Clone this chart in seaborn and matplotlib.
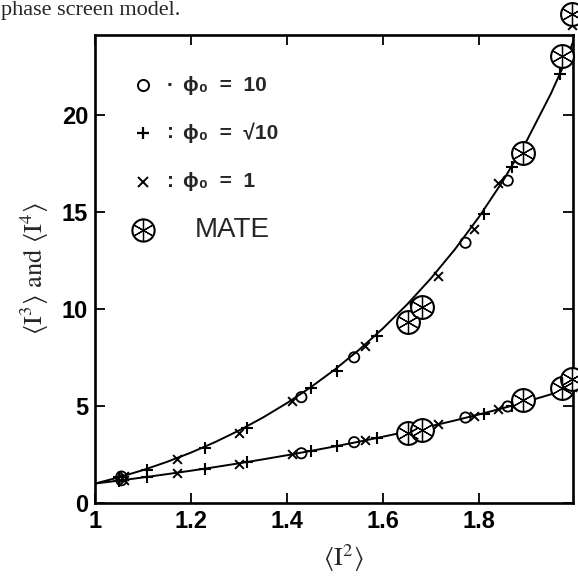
import matplotlib
matplotlib.use("Agg")
import matplotlib.pyplot as plt
import seaborn as sns

sns.set_style("ticks")
plt.rcParams["font.family"] = ["Liberation Sans", "DejaVu Sans"]
plt.rcParams["mathtext.fontset"] = "stix"

# ---- theory curves ----
curve_x = [1.0, 1.05, 1.1, 1.15, 1.2, 1.25, 1.3, 1.35, 1.4, 1.45, 1.5, 1.55,
           1.6, 1.65, 1.7, 1.75, 1.8, 1.85, 1.9, 1.95, 1.975, 1.99, 2.0]
curve_i3 = [1.0, 1.154, 1.315, 1.485, 1.662, 1.848, 2.043, 2.246, 2.459, 2.682,
            2.914, 3.157, 3.412, 3.678, 3.957, 4.25, 4.558, 4.882, 5.227, 5.595,
            5.791, 5.914, 6.0]
curve_i4 = [1.0, 1.323, 1.694, 2.117, 2.595, 3.132, 3.732, 4.401, 5.145, 5.968,
            6.877, 7.882, 8.991, 10.215, 11.566, 13.063, 14.724, 16.581, 18.674,
            21.078, 22.444, 23.343, 24.0]

# ---- simulation points ----
phi10_x = [1.055, 1.43, 1.54, 1.668, 1.772, 1.86, 1.968]
phi10_i3 = [1.17, 2.56, 3.13, 3.80, 4.40, 4.97, 5.80]
phi10_i4 = [1.36, 5.45, 7.5, 10.25, 13.4, 16.6, 22.9]

phisq_x = [1.05, 1.108, 1.23, 1.317, 1.45, 1.505, 1.587, 1.81, 1.869, 1.969]
phisq_i3 = [1.15, 1.34, 1.76, 2.11, 2.68, 2.95, 3.35, 4.60, 4.98, 5.75]
phisq_i4 = [1.32, 1.70, 2.85, 3.85, 5.9, 6.8, 8.6, 14.9, 17.3, 22.1]

phi1_x = [1.06, 1.17, 1.30, 1.41, 1.5625, 1.715, 1.79, 1.84, 1.995]
phi1_i3 = [1.19, 1.56, 2.03, 2.50, 3.25, 4.05, 4.50, 4.82, 5.97]
phi1_i4 = [1.39, 2.27, 3.6, 5.25, 8.1, 11.7, 14.1, 16.5, 24.6]

mate_x = [1.652, 1.681, 1.892, 1.973, 1.994]
mate_i3 = [3.60, 3.78, 5.30, 5.90, 6.40]
mate_i4 = [9.3, 10.1, 18.0, 23.0, 25.2]

xticks = [1.0, 1.2, 1.4, 1.6, 1.8]
xticklabels = ["1", "1.2", "1.4", "1.6", "1.8"]
yticks = [0, 5, 10, 15, 20]
yticklabels = ["0", "5", "10", "15", "20"]

legend_sep = ["\u00b7", ":", ":"]
legend_labels = ["\u03d5\u2080  =  10", "\u03d5\u2080  =  \u221a10", "\u03d5\u2080  =  1", "MATE"]

fig = plt.figure(figsize=(5.78, 5.79), dpi=100)
ax = fig.add_axes([0.1644, 0.1313, 0.8269, 0.8083])

for yc in (curve_i3, curve_i4):
    sns.lineplot(x=curve_x, y=yc, ax=ax, color="black", lw=1.4,
                 sort=False, estimator=None, zorder=2)

MATE_S = 270
for yv in (phi10_i3, phi10_i4):
    sns.scatterplot(x=phi10_x, y=yv, ax=ax, marker="o", s=55, color="black",
                    facecolor="none", edgecolor="black", linewidth=1.3,
                    clip_on=False, zorder=3)
for yv in (phisq_i3, phisq_i4):
    sns.scatterplot(x=phisq_x, y=yv, ax=ax, marker="+", s=70, color="black",
                    edgecolor="black", linewidth=1.5, clip_on=False, zorder=3)
for yv in (phi1_i3, phi1_i4):
    sns.scatterplot(x=phi1_x, y=yv, ax=ax, marker="x", s=40, color="black",
                    edgecolor="black", linewidth=1.4, clip_on=False, zorder=3)
for yv in (mate_i3, mate_i4):
    sns.scatterplot(x=mate_x, y=yv, ax=ax, marker="o", s=MATE_S, color="black",
                    facecolor="white", edgecolor="black", linewidth=1.5,
                    clip_on=False, zorder=4)
    sns.scatterplot(x=mate_x, y=yv, ax=ax, marker=(6, 2, 0), s=MATE_S * 0.9,
                    color="black", edgecolor="black", linewidth=0.9,
                    clip_on=False, zorder=5)

ax.set_xlim(1.0, 1.996)
ax.set_ylim(0, 24.1)
ax.set_xticks(xticks)
ax.set_xticklabels(xticklabels, fontweight="bold")
ax.set_yticks(yticks)
ax.set_yticklabels(yticklabels, fontweight="bold")
ax.tick_params(direction="in", top=True, right=True, length=7, width=1.3,
               labelsize=17, pad=5, colors="black")
for sp in ax.spines.values():
    sp.set_visible(True)
    sp.set_linewidth(1.9)
    sp.set_color("black")

ax.set_xlabel(r"$\langle \mathrm{I}^2 \rangle$", fontsize=19)
ax.set_ylabel(r"$\langle \mathrm{I}^3 \rangle$ and $\langle \mathrm{I}^4 \rangle$",
              fontsize=19, family="STIXGeneral")
ax.xaxis.set_label_coords(0.52, -0.085)
ax.yaxis.set_label_coords(-0.092, 0.5)

# legend (manual keys inside the axes)
leg_y = [0.893, 0.791, 0.686, 0.583]
kx = 0.100
ax.plot([kx], [leg_y[0]], marker="o", ms=8, mfc="none", mec="black", mew=1.4,
        transform=ax.transAxes, clip_on=False, ls="none")
ax.plot([kx], [leg_y[1]], marker="+", ms=9, mec="black", mew=1.6,
        transform=ax.transAxes, clip_on=False, ls="none")
ax.plot([kx], [leg_y[2]], marker="x", ms=6.5, mec="black", mew=1.4,
        transform=ax.transAxes, clip_on=False, ls="none")
ax.plot([kx], [leg_y[3]], marker="o", ms=16, mfc="white", mec="black", mew=1.5,
        transform=ax.transAxes, clip_on=False, ls="none")
ax.plot([kx], [leg_y[3]], marker=(6, 2, 0), ms=15, mec="black", mew=0.9,
        transform=ax.transAxes, clip_on=False, ls="none")
for i in range(3):
    ax.text(0.157, leg_y[i], legend_sep[i], transform=ax.transAxes,
            fontsize=15, fontweight="bold", va="center", ha="center")
    ax.text(0.184, leg_y[i], legend_labels[i], transform=ax.transAxes,
            fontsize=15, fontweight="bold", va="center", ha="left",
            family=["Liberation Sans", "DejaVu Sans"])
ax.text(0.209, leg_y[3], legend_labels[3], transform=ax.transAxes,
        fontsize=20, va="center", ha="left")

fig.text(0.002, 0.999, "phase screen model.", fontsize=16, va="top", ha="left",
         family="Liberation Serif")

fig.savefig("out.png", dpi=100)
